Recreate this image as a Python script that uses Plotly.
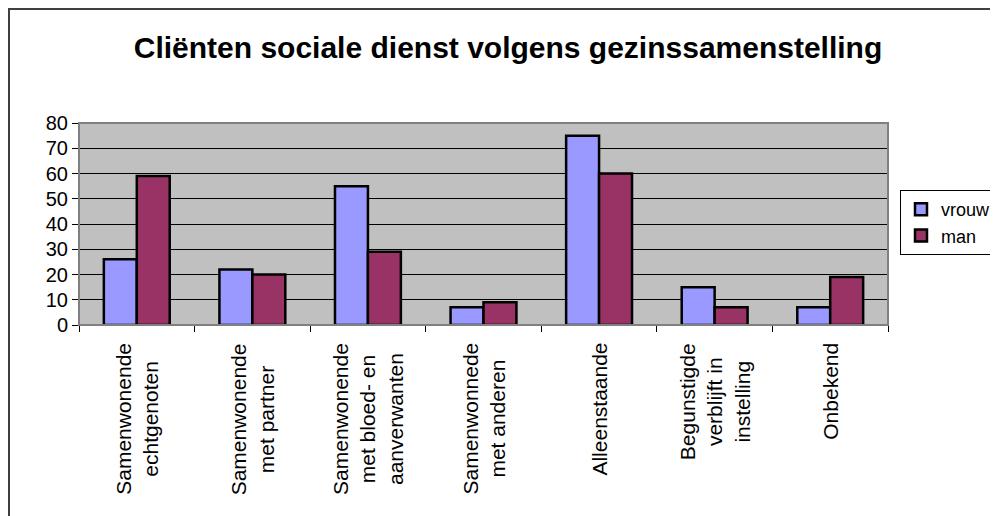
import plotly.graph_objects as go

categories = [
    "Samenwonende<br>echtgenoten",
    "Samenwonende<br>met partner",
    "Samenwonende<br>met bloed- en<br>aanverwanten",
    "Samenwonnede<br>met anderen",
    "Alleenstaande",
    "Begunstigde<br>verblijft in<br>instelling",
    "Onbekend",
]
vrouw = [26, 22, 55, 7, 75, 15, 7]
man = [59, 20, 29, 9, 60, 7, 19]

FONT = "Arial, Liberation Sans, sans-serif"
W, H = 998, 516
# page body adds an 8px offset, so figure coords = screen coords - 8
ML, MT = 71, 115
MR = W - 880
MB = H - 317
PW, PH = W - ML - MR, H - MT - MB

fig = go.Figure()
fig.add_trace(go.Bar(name="vrouw", x=categories, y=vrouw,
                     marker=dict(color="#9999FF", line=dict(color="black", width=2.5))))
fig.add_trace(go.Bar(name="man", x=categories, y=man,
                     marker=dict(color="#993366", line=dict(color="black", width=2.5))))

# category labels, rotated and centred line by line
for c in categories:
    fig.add_annotation(x=c, y=-16 / PH, xref="x", yref="paper", text=c,
                       textangle=-90, showarrow=False, align="center",
                       xanchor="center", yanchor="top",
                       font=dict(family=FONT, size=21, color="black"))

# plot area border (grey top/right)
fig.add_shape(type="rect", xref="paper", yref="paper", x0=0, x1=1, y0=0, y1=1,
              line=dict(color="#808080", width=2), layer="above")
# outer chart frame along the figure edges
fig.add_shape(type="rect", xref="paper", yref="paper",
              x0=(1 - ML) / PW, x1=(W - 1 - ML) / PW,
              y0=-(MB - 1) / PH, y1=(H - MB - 1) / PH,
              line=dict(color="#404040", width=2))

fig.update_layout(
    width=W, height=H,
    margin=dict(l=ML, r=MR, t=MT, b=MB, autoexpand=False),
    paper_bgcolor="white", plot_bgcolor="#C0C0C0",
    font=dict(family=FONT, color="black"),
    title=dict(text="<b>Cliënten sociale dienst volgens gezinssamenstelling</b>",
               x=500 / W, xanchor="center", y=1 - 39 / H, yanchor="middle",
               font=dict(size=30)),
    barmode="group", bargap=0.43, bargroupgap=0,
    legend=dict(x=(892 - ML) / PW, y=(317 - 182) / PH, xanchor="left", yanchor="top",
                bordercolor="black", borderwidth=1, bgcolor="white",
                font=dict(size=18), itemwidth=30, tracegroupgap=2),
    xaxis=dict(showticklabels=False, ticks="outside", tickson="boundaries",
               ticklen=6, tickcolor="black", showline=True, linecolor="black",
               linewidth=1, showgrid=False),
    yaxis=dict(range=[0, 80], dtick=10, ticks="outside", ticklen=6,
               tickcolor="black", showline=True, linecolor="black", linewidth=1,
               showgrid=True, gridcolor="black", gridwidth=1, zeroline=False,
               tickfont=dict(size=20)),
)

fig.write_html("out.html")
